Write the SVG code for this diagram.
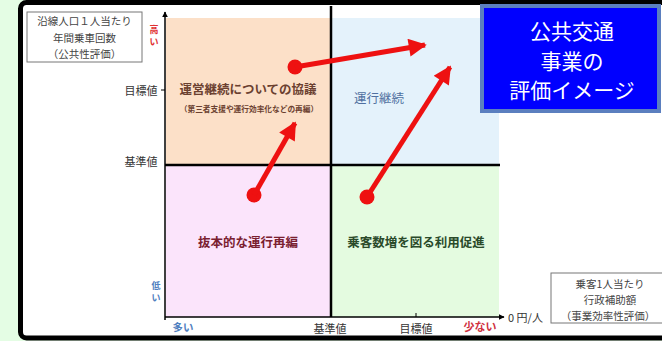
<svg xmlns="http://www.w3.org/2000/svg" width="662" height="341" viewBox="0 0 662 341">
<defs>
<style>
text{font-family:"Noto Sans CJK JP","Noto Sans CJK SC",sans-serif;}
.lbl{font-size:11px;fill:#333;text-anchor:middle;dominant-baseline:central;}
.box{font-size:10.5px;fill:#444;text-anchor:middle;dominant-baseline:central;}
.q{font-size:12.5px;font-weight:bold;text-anchor:middle;dominant-baseline:central;}
.title{font-size:21px;fill:#fff;text-anchor:middle;dominant-baseline:central;}
.vt{font-size:9px;font-weight:bold;text-anchor:middle;dominant-baseline:central;}
.arrow{stroke:#ee1111;stroke-width:5;fill:none;marker-end:url(#ah);}
.dot{fill:#ee1111;}
</style>
<marker id="ah" viewBox="0 0 10 10" refX="9" refY="5" markerWidth="4" markerHeight="3.6" orient="auto" markerUnits="strokeWidth">
<path d="M0,0 L10,5 L0,10 Z" fill="#ee1111"/>
</marker>
<marker id="ax" viewBox="0 0 10 10" refX="9" refY="5" markerWidth="6" markerHeight="6" orient="auto" markerUnits="userSpaceOnUse">
<path d="M0,0 L10,5 L0,10 Z" fill="#000"/>
</marker>
</defs>
<rect x="0" y="0" width="662" height="341" fill="#e4fde4"/>
<rect x="20.5" y="2.5" width="680" height="335.5" rx="6" fill="#fff" stroke="#000" stroke-width="5"/>
<g id="quadrants">
<rect x="166" y="18" width="165" height="147" fill="#fce0c8"/>
<rect x="331" y="18" width="168" height="147" fill="#e4f2fb"/>
<rect x="166" y="165" width="165" height="152" fill="#fbe4fb"/>
<rect x="331" y="165" width="168" height="152" fill="#e4fbe0"/>
</g>
<g id="axes" stroke="#000" fill="none">
<line x1="165" y1="320" x2="165" y2="12" stroke-width="1.5" marker-end="url(#ax)"/>
<line x1="165" y1="317" x2="504" y2="317" stroke-width="1.5" marker-end="url(#ax)"/>
<line x1="165" y1="165" x2="500" y2="165" stroke-width="2.5"/>
<line x1="331" y1="6" x2="331" y2="317" stroke-width="2.5"/>
<line x1="161" y1="90" x2="165" y2="90" stroke-width="1"/>
<line x1="416" y1="313" x2="416" y2="317" stroke-width="1"/>
</g>
<g id="labels-y">
<text class="lbl" x="141" y="90">目標値</text>
<text class="lbl" x="141" y="161">基準値</text>
<text class="vt" x="154" y="29" fill="#e03030">高</text>
<text class="vt" x="154" y="41" fill="#e03030">い</text>
<text class="vt" x="156" y="285" fill="#5080c0">低</text>
<text class="vt" x="156" y="297" fill="#5080c0">い</text>
</g>
<g id="labels-x">
<text x="183" y="326" font-size="10.5" fill="#5080c0" font-weight="bold" text-anchor="middle" dominant-baseline="central">多い</text>
<text class="lbl" x="330" y="328">基準値</text>
<text class="lbl" x="416" y="328">目標値</text>
<text x="480" y="326" font-size="11" fill="#d03040" font-weight="bold" text-anchor="middle" dominant-baseline="central">少ない</text>
<text x="508" y="317" font-size="11" fill="#333" dominant-baseline="central">0 円/人</text>
</g>
<g id="box-y">
<rect x="27" y="12" width="115" height="50" fill="#fff" stroke="#777" stroke-width="1"/>
<text class="box" x="84.5" y="20">沿線人口１人当たり</text>
<text class="box" x="84.5" y="37">年間乗車回数</text>
<text class="box" x="84.5" y="53">（公共性評価）</text>
</g>
<g id="box-x">
<rect x="551" y="273" width="115" height="50" fill="#fff" stroke="#777" stroke-width="1"/>
<text class="box" x="610" y="283">乗客1人当たり</text>
<text class="box" x="610" y="299">行政補助額</text>
<text class="box" x="608" y="315">（事業効率性評価）</text>
</g>
<g id="q-topleft">
<text class="q" x="248" y="88" fill="#6b4030">運営継続についての協議</text>
<text x="249" y="108" font-size="7.7" font-weight="bold" fill="#6b4030" text-anchor="middle" dominant-baseline="central">（第三者支援や運行効率化などの再編）</text>
</g>
<g id="q-topright">
<text x="379" y="97" font-size="12.5" fill="#5070a0" text-anchor="middle" dominant-baseline="central">運行継続</text>
</g>
<g id="q-bottomleft">
<text class="q" x="248" y="241" fill="#7a2030">抜本的な運行再編</text>
</g>
<g id="q-bottomright">
<text class="q" x="416" y="241" fill="#2a4a2a">乗客数増を図る利用促進</text>
</g>
<g id="title">
<rect x="482" y="6" width="177" height="105" fill="#0000ff" stroke="#5b7fbf" stroke-width="4"/>
<text class="title" x="572" y="30">公共交通</text>
<text class="title" x="572" y="60">事業の</text>
<text class="title" x="572" y="89">評価イメージ</text>
</g>
<g id="connectors">
<circle class="dot" cx="295" cy="67" r="7.5"/>
<line class="arrow" x1="295" y1="67" x2="425" y2="45"/>
<circle class="dot" cx="254" cy="195" r="7.5"/>
<line class="arrow" x1="254" y1="195" x2="295" y2="123"/>
<circle class="dot" cx="367" cy="197" r="7.5"/>
<line class="arrow" x1="367" y1="197" x2="450" y2="67"/>
</g>
</svg>
